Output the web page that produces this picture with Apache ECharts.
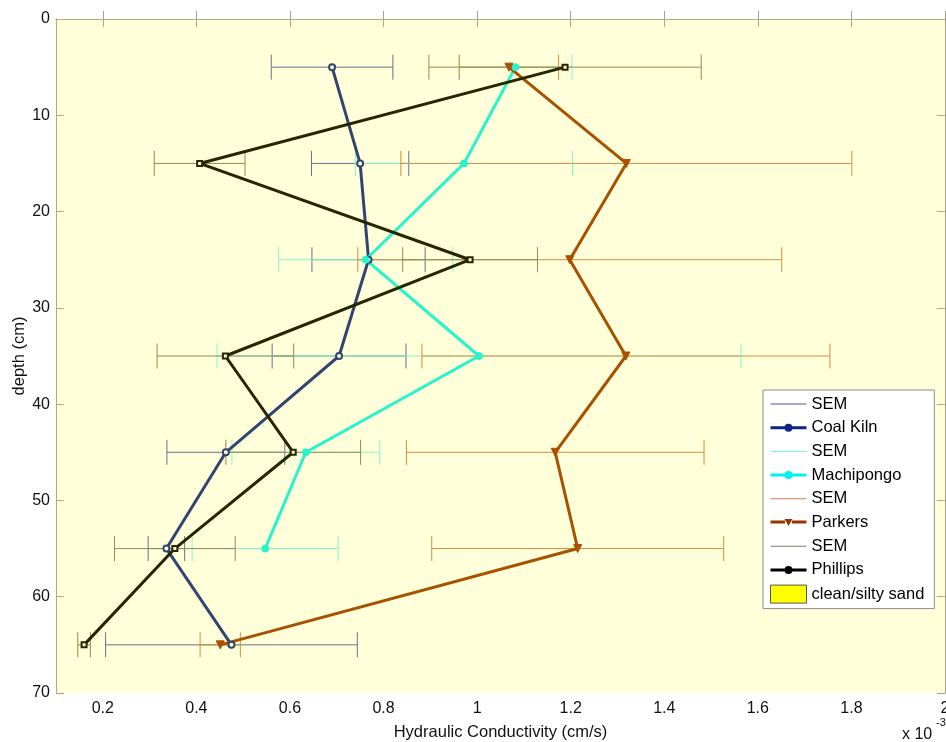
<!DOCTYPE html>
<html>
<head>
<meta charset="utf-8">
<title>Hydraulic Conductivity vs depth</title>
<script src="https://cdn.jsdelivr.net/npm/echarts@6/dist/echarts.min.js"></script>
<style>
  html, body { margin: 0; padding: 0; background: #ffffff; }
  #chart { width: 946px; height: 742px; }
</style>
</head>
<body>
<div id="chart"></div>
<script>
// Sampling depths (cm)
const depths = [5, 15, 25, 35, 45, 55, 65];

// Hydraulic conductivity, in units of 1e-3 cm/s, with standard errors of the mean
const coalKiln      = [0.690, 0.750, 0.768, 0.705, 0.463, 0.336, 0.475];
const coalKilnSem   = [0.130, 0.104, 0.121, 0.143, 0.126, 0.039, 0.269];

const machipongo    = [1.082, 0.972, 0.762, 1.004, 0.634, 0.547];
const machipongoSem = [0.121, 0.232, 0.186, 0.560, 0.158, 0.156];

const parkers       = [1.068, 1.319, 1.198, 1.318, 1.167, 1.215, 0.451];
const parkersSem    = [0.106, 0.482, 0.453, 0.436, 0.318, 0.312, 0.043];

const phillips      = [1.188, 0.407, 0.985, 0.462, 0.607, 0.354, 0.160];
const phillipsSem   = [0.291, 0.097, 0.144, 0.146, 0.144, 0.129, 0.0135];

// Axis ticks
const xTicks = [0.2, 0.4, 0.6, 0.8, 1.0, 1.2, 1.4, 1.6, 1.8, 2.0];
const xTickLabels = ['0.2', '0.4', '0.6', '0.8', '1', '1.2', '1.4', '1.6', '1.8', '2'];
const yTicks = [0, 10, 20, 30, 40, 50, 60, 70];

const FONT = 'Liberation Sans, Arial, Helvetica, sans-serif';
const AXIS_COLOR = '#a3a08a';

const sites = [
  { name: 'Coal Kiln',  values: coalKiln,   sem: coalKilnSem,   color: '#0e2585', semColor: '#4a5aa8',
    symbol: 'emptyCircle', size: 6, border: 3, rotate: 0 },
  { name: 'Machipongo', values: machipongo, sem: machipongoSem, color: '#00f2ee', semColor: '#74f6f2',
    symbol: 'circle', size: 7, border: 1, rotate: 0 },
  { name: 'Parkers',    values: parkers,    sem: parkersSem,    color: '#993300', semColor: '#cc7a4c',
    symbol: 'triangle', size: 8, border: 1, rotate: 180 },
  { name: 'Phillips',   values: phillips,   sem: phillipsSem,   color: '#000000', semColor: '#787868',
    symbol: 'emptyRect', size: 5, border: 3, rotate: 0 }
];

// Horizontal error bar with end caps, drawn through the axis scales
function errorBarSeries(site) {
  const c = site.semColor;
  return {
    name: 'SEM ' + site.name,
    type: 'custom',
    coordinateSystem: 'cartesian2d',
    silent: true,
    z: 2,
    itemStyle: { color: c },
    encode: { x: 0, y: 1 },
    data: site.values.map((v, i) => [v, depths[i], site.sem[i]]),
    renderItem(params, api) {
      const v = api.value(0), d = api.value(1), e = api.value(2);
      const a = api.coord([v - e, d]);
      const b = api.coord([v + e, d]);
      const cap = 12.5;
      const st = { stroke: c, lineWidth: 1 };
      return {
        type: 'group',
        children: [
          { type: 'line', shape: { x1: a[0], y1: a[1], x2: b[0], y2: b[1] }, style: st },
          { type: 'line', shape: { x1: a[0], y1: a[1] - cap, x2: a[0], y2: a[1] + cap }, style: st },
          { type: 'line', shape: { x1: b[0], y1: b[1] - cap, x2: b[0], y2: b[1] + cap }, style: st }
        ]
      };
    }
  };
}

function lineSeries(site) {
  return {
    name: site.name,
    type: 'line',
    z: 2,
    data: site.values.map((v, i) => [v, depths[i]]),
    symbol: site.symbol,
    symbolSize: site.size,
    symbolRotate: site.rotate,
    lineStyle: { color: site.color, width: 3 },
    itemStyle: { color: site.color, borderColor: site.color, borderWidth: site.border },
    emphasis: { disabled: true }
  };
}

const series = [];
sites.forEach(s => { series.push(errorBarSeries(s)); series.push(lineSeries(s)); });

// Translucent sand band over the whole depth range
series.push({
  name: 'clean/silty sand',
  type: 'custom',
  coordinateSystem: 'cartesian2d',
  silent: true,
  z: 3,
  itemStyle: { color: '#ffff00', borderColor: '#555555', borderWidth: 1 },
  data: [[0.1, 0]],
  renderItem(params) {
    const g = params.coordSys;
    return { type: 'rect', shape: { x: g.x, y: g.y, width: g.width, height: g.height },
             style: { fill: 'rgba(255,255,0,0.15)' } };
  }
});

// Legend icons: thin line for SEM, thick line with marker for sites
const semIcon = 'path://M0,0H36V1H0Z';
const markerIcons = {
  circle:   'path://M0,2.5H14.5V5.5H0Z M21.5,2.5H36V5.5H21.5Z M14,4A4,4,0,1,1,22,4A4,4,0,1,1,14,4Z',
  triangle: 'path://M0,1.5H14.5V4.5H0Z M21.5,1.5H36V4.5H21.5Z M14,0H22L18,7Z'
};
const legendData = [];
sites.forEach(s => {
  legendData.push({ name: 'SEM ' + s.name, icon: semIcon, itemStyle: { color: s.semColor, borderWidth: 0 } });
  legendData.push({ name: s.name, icon: s.symbol === 'triangle' ? markerIcons.triangle : markerIcons.circle,
                    itemStyle: { color: s.color, borderWidth: 0 } });
});
legendData.push({ name: 'clean/silty sand', icon: 'rect',
                  itemStyle: { color: '#ffff00', borderColor: '#555555', borderWidth: 1 } });

const tickCommon = { show: true, inside: true, length: 8, lineStyle: { color: AXIS_COLOR, width: 1 } };

const option = {
  animation: false,
  backgroundColor: '#ffffff',
  grid: { left: 56, right: 1, top: 19, bottom: 49, containLabel: false, outerBoundsMode: 'none' },
  xAxis: [
    {
      type: 'value', position: 'bottom', min: 0.1, max: 2.0,
      name: 'Hydraulic Conductivity (cm/s)', nameLocation: 'middle', nameGap: 31, nameMoveOverlap: false,
      nameTextStyle: { fontFamily: FONT, fontSize: 16.5, color: '#111' },
      axisLine: { show: true, lineStyle: { color: AXIS_COLOR, width: 1 } },
      axisTick: Object.assign({ customValues: xTicks }, tickCommon),
      axisLabel: {
        customValues: xTicks, margin: 8, fontFamily: FONT, fontSize: 16, color: '#111',
        formatter: v => xTickLabels[xTicks.findIndex(t => Math.abs(t - v) < 1e-9)] ?? ''
      },
      splitLine: { show: false }
    },
    {
      type: 'value', position: 'top', min: 0.1, max: 2.0,
      axisLine: { show: true, lineStyle: { color: AXIS_COLOR, width: 1 } },
      axisTick: Object.assign({ customValues: xTicks }, tickCommon),
      axisLabel: { show: false },
      splitLine: { show: false }
    }
  ],
  yAxis: [
    {
      type: 'value', position: 'left', inverse: true, min: 0, max: 70, interval: 10,
      name: 'depth (cm)', nameLocation: 'middle', nameGap: 28, nameRotate: 90, nameMoveOverlap: false,
      nameTextStyle: { fontFamily: FONT, fontSize: 16.5, color: '#111' },
      axisLine: { show: true, lineStyle: { color: AXIS_COLOR, width: 1 } },
      axisTick: tickCommon,
      axisLabel: { margin: 6, fontFamily: FONT, fontSize: 16, color: '#111' },
      splitLine: { show: false }
    },
    {
      type: 'value', position: 'right', inverse: true, min: 0, max: 70, interval: 10,
      axisLine: { show: true, lineStyle: { color: AXIS_COLOR, width: 1 } },
      axisTick: tickCommon,
      axisLabel: { show: false },
      splitLine: { show: false }
    }
  ],
  legend: {
    orient: 'vertical',
    left: 763, top: 390,
    z: 10,
    padding: [5, 10, 5, 7],
    itemWidth: 36, itemHeight: 18, itemGap: 5.7,
    backgroundColor: '#ffffff',
    borderColor: '#8a8a8a', borderWidth: 1, borderRadius: 0,
    selectedMode: false,
    textStyle: { fontFamily: FONT, fontSize: 16.5, color: '#000', lineHeight: 18 },
    formatter: name => name.startsWith('SEM') ? 'SEM' : name,
    data: legendData
  },
  graphic: [
    { type: 'text', left: 902, top: 727, z: 10,
      style: { text: 'x 10', fontFamily: FONT, fontSize: 16, fill: '#111' } },
    { type: 'text', left: 936, top: 717, z: 10,
      style: { text: '-3', fontFamily: FONT, fontSize: 11, fill: '#111' } }
  ],
  series: series
};

const chart = echarts.init(document.getElementById('chart'), null, { renderer: 'canvas' });
chart.setOption(option);
</script>
</body>
</html>
